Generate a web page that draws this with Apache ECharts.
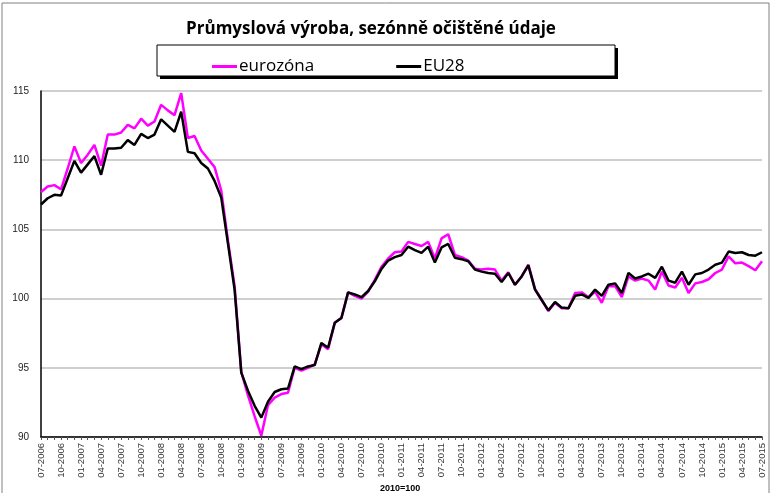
<!DOCTYPE html>
<html>
<head>
<meta charset="utf-8">
<script src="https://cdn.jsdelivr.net/npm/echarts/dist/echarts.min.js"></script>
<style>
  html, body { margin: 0; padding: 0; background: #fff; }
  #chart { width: 772px; height: 493px; }
</style>
</head>
<body>
<div id="chart"></div>
<script>
// monthly data 07-2006 .. 07-2015, index 2010=100
const startMonth = 7;
const startYear = 2006;
const monthCount = 109;

const eurozona = [
  107.7, 108.1, 108.2, 107.9, 109.4, 111.0, 109.8, 110.4, 111.1, 109.6,
  111.85, 111.85, 112.0, 112.55, 112.3, 113.0, 112.5, 112.8, 114.0, 113.6,
  113.25, 114.85, 111.6, 111.75, 110.7, 110.1, 109.5, 107.8, 104.2, 100.9,
  94.7, 93.0, 91.5, 90.1, 92.3, 92.85, 93.1, 93.2, 95.0, 94.8,
  95.0, 95.25, 96.7, 96.35, 98.25, 98.6, 100.45, 100.2, 100.0, 100.5,
  101.35, 102.3, 102.9, 103.35, 103.4, 104.1, 103.95, 103.8, 104.1, 102.9,
  104.35, 104.65, 103.15, 103.0, 102.75, 102.15, 102.1, 102.15, 102.1, 101.3,
  101.9, 101.0, 101.6, 102.45, 100.7, 99.9, 99.1, 99.7, 99.3, 99.3,
  100.4, 100.45, 100.1, 100.5, 99.7, 100.9, 100.9, 100.1, 101.6, 101.3,
  101.45, 101.3, 100.65, 101.95, 100.95, 100.8, 101.5, 100.4, 101.1, 101.2,
  101.4, 101.85, 102.1, 103.05, 102.55, 102.6, 102.35, 102.05, 102.7
];

const eu28 = [
  106.8, 107.25, 107.5, 107.45, 108.7, 109.95, 109.1, 109.7, 110.3, 108.95,
  110.85, 110.85, 110.9, 111.45, 111.1, 111.9, 111.6, 111.85, 112.95, 112.5,
  112.05, 113.5, 110.6, 110.5, 109.8, 109.4, 108.5, 107.3, 104.0, 100.65,
  94.65, 93.35, 92.25, 91.4, 92.55, 93.25, 93.45, 93.5, 95.1, 94.9,
  95.1, 95.2, 96.8, 96.45, 98.25, 98.6, 100.45, 100.3, 100.1, 100.55,
  101.25, 102.15, 102.75, 103.0, 103.15, 103.75, 103.5, 103.3, 103.75, 102.6,
  103.7, 103.95, 102.95, 102.85, 102.7, 102.1, 101.95, 101.85, 101.8, 101.2,
  101.85, 101.0, 101.6, 102.4, 100.65, 99.9, 99.15, 99.75, 99.35, 99.3,
  100.2, 100.3, 100.05, 100.65, 100.2, 101.0, 101.1, 100.4, 101.85, 101.45,
  101.6, 101.8, 101.5, 102.3, 101.3, 101.15, 101.95, 101.0, 101.75, 101.85,
  102.1, 102.45, 102.6, 103.4, 103.3, 103.35, 103.15, 103.1, 103.35
];

const seriesNames = ["eurozóna", "EU28"];
const seriesColors = ["#ff00ff", "#000000"];

// category labels like 07-2006
const months = [];
for (let i = 0; i < monthCount; i++) {
  const m = ((startMonth - 1 + i) % 12) + 1;
  const y = startYear + Math.floor((startMonth - 1 + i) / 12);
  months.push((m < 10 ? "0" + m : "" + m) + "-" + y);
}

const chart = echarts.init(document.getElementById("chart"), null, { renderer: "canvas" });

const option = {
  backgroundColor: "#fff",
  animation: false,
  title: {
    text: "Průmyslová výroba, sezónně očištěné údaje",
    left: 366,
    textAlign: "center",
    top: 16,
    textStyle: { fontFamily: "Open Sans", fontWeight: "bold", fontSize: 17, color: "#000" }
  },
  legend: {
    data: seriesNames,
    left: 207,
    top: 53,
    icon: "rect",
    itemWidth: 25,
    itemHeight: 3,
    itemGap: 82,
    textStyle: { fontFamily: "Open Sans", fontSize: 17, color: "#000", padding: [0, 0, 0, -3] }
  },
  graphic: [
    // outer frame
    { type: "rect", shape: { x: 2, y: 3, width: 767, height: 500 }, style: { fill: null, stroke: "#808080", lineWidth: 1 }, silent: true },
    // legend box with shadow
    { type: "rect", shape: { x: 160, y: 48, width: 458, height: 31 }, style: { fill: "#000" }, silent: true, z: 0 },
    { type: "rect", shape: { x: 157, y: 45, width: 458, height: 31 }, style: { fill: "#fff", stroke: "#000", lineWidth: 1 }, silent: true, z: 1 },
    { type: "text", left: 380, top: 484, style: { text: "2010=100", font: "bold 9px 'Liberation Sans'", fill: "#000" }, silent: true }
  ],
  grid: { left: 41, right: 10, top: 91, bottom: 56, containLabel: false },
  xAxis: {
    type: "category",
    data: months,
    boundaryGap: false,
    axisLine: { lineStyle: { color: "#000", width: 1.5 } },
    axisTick: { show: true, interval: 0, length: 3, lineStyle: { color: "#555" } },
    axisLabel: {
      interval: 2,
      rotate: 90,
      fontFamily: "Liberation Sans",
      fontSize: 9.5,
      color: "#333",
      margin: 6
    },
    splitLine: { show: false }
  },
  yAxis: {
    type: "value",
    min: 90,
    max: 115,
    interval: 5,
    axisLine: { show: true, lineStyle: { color: "#000", width: 1.5 } },
    axisTick: { show: false },
    axisLabel: { fontFamily: "Liberation Sans", fontSize: 10, color: "#222", margin: 12 },
    splitLine: { lineStyle: { color: "#cfcfcf", width: 2 } }
  },
  series: [
    {
      name: seriesNames[0],
      type: "line",
      data: eurozona,
      showSymbol: false,
      color: seriesColors[0],
      lineStyle: { color: seriesColors[0], width: 2.5 },
      z: 2
    },
    {
      name: seriesNames[1],
      type: "line",
      data: eu28,
      showSymbol: false,
      color: seriesColors[1],
      lineStyle: { color: seriesColors[1], width: 2.5 },
      z: 3
    }
  ]
};

chart.setOption(option);
</script>
</body>
</html>
